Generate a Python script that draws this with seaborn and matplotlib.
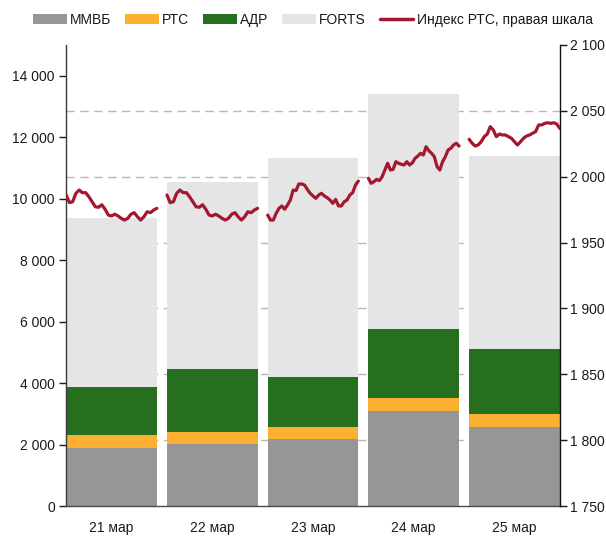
import numpy as np
import pandas as pd
import matplotlib
matplotlib.use("Agg")
import matplotlib.pyplot as plt
import seaborn as sns
from matplotlib.patches import Patch
from matplotlib.lines import Line2D
from matplotlib.ticker import FuncFormatter, MultipleLocator

# ---------------- data ----------------
days = ["21 мар", "22 мар", "23 мар", "24 мар", "25 мар"]
mmvb = [1900, 2030, 2190, 3080, 2580]
rts = [420, 375, 390, 435, 415]
adr = [1550, 2065, 1630, 2260, 2100]
forts = [5490, 6070, 7105, 7640, 6280]

idx_21 = [1986.1, 1980.3, 1981.0, 1987.4, 1989.9, 1987.9, 1987.9, 1984.8, 1981.0, 1977.2,
          1976.8, 1978.7, 1975.3, 1970.9, 1970.2, 1971.5, 1970.2, 1968.4, 1967.1, 1968.4,
          1971.5, 1972.7, 1969.6, 1967.1, 1969.6, 1973.4, 1972.7, 1974.7, 1976.0]
idx_22 = [1986.1, 1980.3, 1981.0, 1987.4, 1989.9, 1987.9, 1987.9, 1984.8, 1981.0, 1977.2,
          1976.8, 1978.7, 1975.3, 1970.9, 1970.2, 1971.5, 1970.2, 1968.4, 1967.1, 1968.4,
          1971.5, 1972.7, 1969.6, 1967.1, 1969.6, 1973.4, 1972.7, 1974.7, 1976.0]
idx_23 = [1970.9, 1967.1, 1967.1, 1972.2, 1976.0, 1977.8, 1975.3, 1978.5, 1982.3, 1989.9,
          1989.4, 1994.5, 1994.5, 1993.7, 1990.4, 1987.4, 1985.4, 1983.6, 1986.1, 1987.4,
          1985.4, 1984.1, 1982.3, 1979.8, 1982.8, 1977.8, 1977.8, 1981.0, 1982.3, 1986.1,
          1987.9, 1993.7, 1996.7]
idx_24 = [1998.8, 1995.0, 1996.2, 1998.0, 1997.0, 2000.0, 2005.1, 2010.2, 2005.1, 2005.6,
          2011.4, 2010.2, 2009.4, 2008.9, 2011.4, 2008.9, 2010.6, 2014.0, 2015.7, 2017.8,
          2016.5, 2022.8, 2019.7, 2017.8, 2015.2, 2007.6, 2005.1, 2011.4, 2015.2, 2020.3,
          2021.6, 2024.1, 2025.4, 2023.3]
idx_25 = [2028.4, 2025.4, 2023.3, 2024.1, 2026.6, 2030.4, 2032.4, 2038.0, 2035.5, 2030.4,
          2032.4, 2031.7, 2031.7, 2030.4, 2029.2, 2026.6, 2024.1, 2026.6, 2029.2, 2030.9,
          2031.7, 2033.0, 2034.2, 2039.3, 2039.3, 2040.5, 2041.0, 2040.5, 2041.0, 2040.0,
          2036.7]
index_days = [idx_21, idx_22, idx_23, idx_24, idx_25]

series_names = ["ММВБ", "РТС", "АДР", "FORTS"]
line_name = "Индекс РТС, правая шкала"

# ---------------- style ----------------
sns.set_style("white")
plt.rcParams["font.family"] = ["Liberation Sans", "DejaVu Sans"]
plt.rcParams["font.size"] = 10

colors = {"ММВБ": "#969696", "РТС": "#FBB12F", "АДР": "#256F1F", "FORTS": "#E5E5E5"}
line_color = "#A3182E"
grid_color = "#B8B8B8"
text_color = "#1A1A1A"

LEFT_MAX = 15000
R_MIN, R_MAX = 1750, 2100
BAR_W = 0.9

fig = plt.figure(figsize=(6.06, 5.37), dpi=100)
ax = fig.add_axes([66 / 606, 31 / 537, 494 / 606, 461 / 537])

# dashed grid lines at right-axis ticks (behind bars)
for v in range(1800, 2100, 50):
    ax.axhline((v - R_MIN) / (R_MAX - R_MIN) * LEFT_MAX, color=grid_color,
               lw=1.0, ls=(0, (6, 4)), zorder=0.5)

# stacked bars via cumulative overlay
layers = [mmvb, rts, adr, forts]
cum = np.cumsum(np.array(layers, dtype=float), axis=0)
df = pd.DataFrame({"day": days})
for k in range(len(layers) - 1, -1, -1):
    df["v"] = cum[k]
    sns.barplot(data=df, x="day", y="v", color=colors[series_names[k]], saturation=1,
                width=BAR_W, linewidth=0, edgecolor="none", ax=ax, zorder=2, errorbar=None)

ax.set_xlim(-0.452, 4.452)
ax.set_ylim(0, LEFT_MAX)
ax.yaxis.set_major_locator(MultipleLocator(2000))
fmt = FuncFormatter(lambda v, p: f"{int(round(v)):,}".replace(",", " "))
ax.yaxis.set_major_formatter(fmt)
ax.set_xlabel("")
ax.set_ylabel("")
ax.tick_params(axis="y", which="both", left=True, length=5, width=1, pad=3,
               labelsize=10, colors=text_color, direction="out")
ax.tick_params(axis="x", bottom=False, pad=7, labelsize=10, colors=text_color)
for s in ["top", "right"]:
    ax.spines[s].set_visible(False)
ax.spines["left"].set_color("#3a3a3a")
ax.spines["bottom"].set_color("#4a4a4a")
ax.spines["left"].set_linewidth(1)
ax.spines["bottom"].set_linewidth(1)

# index line on right axis
ax2 = ax.twinx()
rows = []
for i, vals in enumerate(index_days):
    frac = np.linspace(0, 1, len(vals))
    pos = i - BAR_W / 2 + BAR_W * frac
    for p, v in zip(pos, vals):
        rows.append({"day": days[i], "pos": p, "val": v})
ldf = pd.DataFrame(rows)
sns.lineplot(data=ldf, x="pos", y="val", units="day", estimator=None, color=line_color,
             lw=2.3, ax=ax2, zorder=5, legend=False)
ax2.set_ylim(R_MIN, R_MAX)
ax2.set_xlim(-0.452, 4.452)
ax2.yaxis.set_major_locator(MultipleLocator(50))
ax2.yaxis.set_major_formatter(fmt)
ax2.set_xlabel("")
ax2.set_ylabel("")
ax2.tick_params(axis="y", right=True, length=5, width=1, pad=2, labelsize=10,
                colors=text_color, direction="out")
for s in ["top", "left", "bottom"]:
    ax2.spines[s].set_visible(False)
ax2.spines["right"].set_color("#111111")
ax2.spines["right"].set_linewidth(1)

# legend
handles = [Patch(facecolor=colors[n], edgecolor="none") for n in series_names]
handles.append(Line2D([0], [0], color=line_color, lw=2.5))
labels = series_names + [line_name]
fig.legend(handles, labels, loc="center", bbox_to_anchor=(0.5165, 1 - 20 / 537), ncol=5,
           frameon=False, fontsize=10, handlelength=2.4, handleheight=0.8,
           handletextpad=0.25, columnspacing=1.0, labelcolor=text_color)

fig.savefig("out.png", dpi=100)
